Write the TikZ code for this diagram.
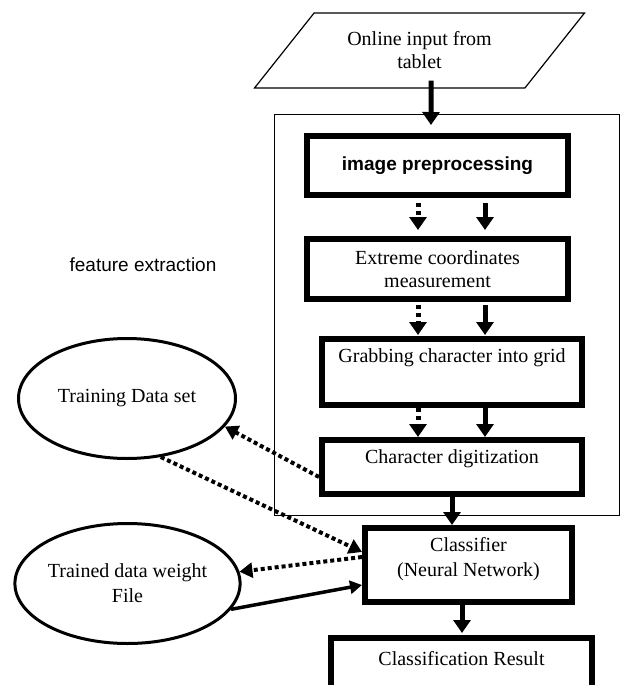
\documentclass[tikz,border=0pt]{standalone}
\usepackage{fontspec}
\setmainfont{Liberation Serif}
\setsansfont{Liberation Sans}
\usetikzlibrary{shapes.geometric,arrows.meta}

\begin{document}
\begin{tikzpicture}[x=1pt,y=-1pt,
  box/.style={draw, line width=6pt, inner sep=0pt, font=\fontsize{20}{25}\selectfont},
  oval/.style={draw, ellipse, line width=3pt, inner sep=0pt, minimum width=217pt, minimum height=120pt, align=center, font=\fontsize{20}{25}\selectfont},
  arr/.style={-{Triangle[width=17pt,length=13pt]}, line width=5pt},
  darr/.style={arr, dash pattern=on 4pt off 4pt},
  dots/.style={-{Triangle[width=15pt,length=13pt]}, line width=4pt, dash pattern=on 4pt off 3pt}]
\useasboundingbox (0,0) rectangle (621,685);

\node[draw, trapezium, trapezium left angle=42.4, trapezium right angle=137.6, trapezium stretches=true, minimum width=331pt, minimum height=75pt, inner sep=0pt, line width=1.2pt, align=center, font=\fontsize{20}{23}\selectfont] (input) at (419.5,50.5) {Online input from\\tablet};

\node[draw, line width=0.8pt, inner sep=0pt, minimum width=345pt, minimum height=401pt] (fe) at (446.5,314.5) {};
\node[font=\sffamily\fontsize{19}{23}\selectfont] (felabel) at (143,265) {feature extraction};

\node[box, minimum width=261pt, minimum height=59pt, font=\sffamily\bfseries\fontsize{19}{23}\selectfont] (prep) at (437.5,165.5) {image preprocessing};
\node[box, minimum width=261pt, minimum height=60pt, align=center, font=\fontsize{20}{23}\selectfont] (extr) at (437.5,269) {Extreme coordinates\\measurement};
\node[box, minimum width=260pt, text height=23pt, text depth=43pt] (grab) at (452,372) {Grabbing character into grid};
\node[box, minimum width=260pt, text height=23pt, text depth=31pt] (digit) at (452,467) {Character digitization};
\node[box, minimum width=207pt, text height=23pt, text depth=51pt] (cls) at (468.5,565) {\begin{tabular}[t]{@{}c@{}}Classifier\\(Neural Network)\end{tabular}};
\node[box, minimum width=261pt, text height=27pt, text depth=40pt] (res) at (461.5,671.5) {Classification Result};

\node[oval] (train) at (127,398.5) {Training Data set};
\node[oval, minimum width=218pt] (trained) at (127.5,583.5) {Trained data weight\\File};

\draw[arr, shorten <=-8pt, shorten >=8pt] ([xshift=11.5pt]input.south) -- ([xshift=-6.5pt]prep.north);
\draw[darr, shorten <=5pt, shorten >=6pt] ([xshift=-19.5pt]prep.south) -- ([xshift=-19.5pt]extr.north);
\draw[arr, shorten <=5pt, shorten >=6pt] ([xshift=47.5pt]prep.south) -- ([xshift=47.5pt]extr.north);
\draw[darr, shorten <=3pt, shorten >=1pt] ([xshift=-19.5pt]extr.south) -- ([xshift=-34pt]grab.north);
\draw[arr, shorten <=3pt, shorten >=1pt] ([xshift=47.5pt]extr.south) -- ([xshift=33pt]grab.north);
\draw[darr] ([xshift=-34pt]grab.south) -- ([xshift=-34pt]digit.north);
\draw[arr] ([xshift=33pt]grab.south) -- ([xshift=33pt]digit.north);
\draw[arr] (digit.south) -- ([xshift=-16.5pt]cls.north);
\draw[arr, shorten >=2pt] ([xshift=-6.5pt]cls.south) -- ([xshift=0.5pt]res.north);

\draw[dots] ([yshift=-10pt]digit.west) -- (train.-16);
\draw[dots] (train.-60) -- ([yshift=13pt]cls.west);
\draw[dots] ([yshift=8pt]cls.west) -- (trained.6);
\draw[-{Triangle[width=13pt,length=12pt]}, line width=3.5pt] (trained.-14) -- ([yshift=-20pt]cls.west);
\end{tikzpicture}
\end{document}
